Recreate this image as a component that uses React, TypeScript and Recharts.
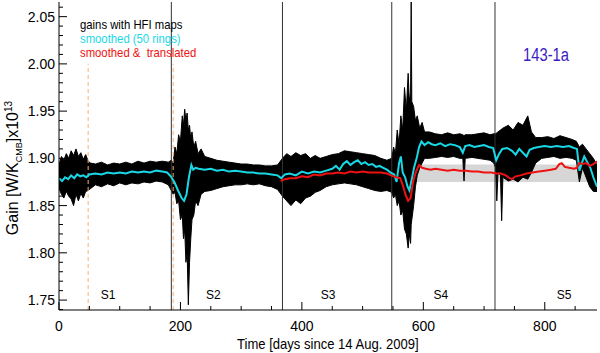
import React from "react";
import {
  ComposedChart,
  Area,
  Line,
  XAxis,
  YAxis,
  ReferenceArea,
  ReferenceLine,
  ReferenceDot,
} from "recharts";

const FONT = "'Liberation Sans', Arial, sans-serif";

// raw gains: envelope of the noisy HFI-map gains (low / high per sample)
const gainDays = [
  0, 4, 8, 12, 16, 20, 24, 28, 32, 36, 40, 44, 48, 52,
  60, 70, 80, 90, 100, 110, 120, 130, 140, 150, 160, 170, 180,
  185, 188, 191, 194, 197, 200, 203, 205, 207, 209, 211, 213, 215, 217, 219, 222, 225, 229, 234, 240,
  250, 260, 270, 280, 290, 300, 310, 320, 330, 340, 350, 360,
  368, 375, 382, 390, 398, 406, 414, 422, 430, 440, 450, 460, 470, 480, 490, 500, 510, 520, 530, 540,
  548, 551, 554, 557, 560, 563, 566, 569, 572, 575, 577, 579, 580, 581, 584, 587, 590, 594, 598, 602,
  610, 620, 630, 640, 650, 660, 665, 667, 669, 680, 690, 700, 710, 716,
  719, 721, 723, 727, 729, 731, 740, 748, 756, 764, 772, 778,
  785, 795, 805, 815, 825, 835, 845, 852, 857, 862, 868, 874, 880, 886,
];
const gainHi = [
  1.893, 1.902, 1.898, 1.905, 1.9, 1.908, 1.903, 1.91, 1.902, 1.906, 1.899, 1.904, 1.897, 1.895,
  1.894, 1.896, 1.893, 1.895, 1.894, 1.896, 1.894, 1.897, 1.895, 1.897, 1.896, 1.897, 1.896,
  1.898, 1.895, 1.912, 1.905, 1.925, 1.918, 1.945, 1.935, 1.952, 1.94, 1.948, 1.93, 1.935, 1.92, 1.928, 1.912, 1.918, 1.905, 1.91, 1.902,
  1.9, 1.898, 1.897, 1.896, 1.895, 1.894, 1.894, 1.893, 1.893, 1.892, 1.892, 1.893,
  1.9, 1.905, 1.902, 1.906, 1.903, 1.905, 1.9, 1.903, 1.9, 1.902, 1.904, 1.905, 1.908, 1.907, 1.906, 1.905, 1.904, 1.903, 1.9, 1.898,
  1.9, 1.912, 1.905, 1.93, 1.915, 1.945, 1.93, 1.975, 1.95, 1.99, 1.96, 1.97, 2.066, 1.96, 1.955, 1.94, 1.945, 1.932, 1.938, 1.928,
  1.928, 1.926, 1.925, 1.927, 1.925, 1.926, 1.925, 1.924, 1.925, 1.925, 1.926, 1.927, 1.925, 1.926,
  1.926, 1.927, 1.928, 1.93, 1.931, 1.932, 1.935, 1.93, 1.938, 1.935, 1.945, 1.928,
  1.922, 1.922, 1.923, 1.921, 1.924, 1.922, 1.92, 1.918, 1.912, 1.915, 1.91, 1.905, 1.9, 1.893,
];
const gainLo = [
  1.868, 1.862, 1.858, 1.865, 1.86, 1.857, 1.85, 1.862, 1.855, 1.863, 1.858, 1.865, 1.866, 1.868,
  1.872, 1.87, 1.873, 1.871, 1.874, 1.872, 1.874, 1.873, 1.875, 1.874, 1.876, 1.875, 1.872,
  1.866, 1.862, 1.864, 1.852, 1.855, 1.835, 1.84, 1.815, 1.825, 1.79, 1.8, 1.745, 1.79, 1.815, 1.835, 1.84, 1.855, 1.85, 1.862, 1.865,
  1.866, 1.868, 1.87, 1.871, 1.872, 1.872, 1.873, 1.872, 1.873, 1.871, 1.87, 1.867,
  1.86, 1.855, 1.85, 1.856, 1.852, 1.858, 1.86, 1.864, 1.866, 1.87, 1.872, 1.873, 1.874, 1.873, 1.872, 1.87, 1.868, 1.866, 1.865, 1.866,
  1.864, 1.858, 1.862, 1.85, 1.855, 1.84, 1.845, 1.825, 1.82, 1.805, 1.82, 1.81, 1.83, 1.835, 1.85, 1.87, 1.882, 1.89, 1.895, 1.9,
  1.9, 1.901, 1.902, 1.901, 1.902, 1.9, 1.9, 1.876, 1.9, 1.901, 1.9, 1.899, 1.898, 1.895,
  1.89, 1.855, 1.885, 1.882, 1.834, 1.88, 1.876, 1.878, 1.875, 1.88, 1.878, 1.885,
  1.895, 1.9, 1.901, 1.902, 1.9, 1.901, 1.9, 1.898, 1.875, 1.89, 1.88, 1.87, 1.865, 1.865,
];

// smoothed (50 rings)
const smoothDays = [
  0, 5, 10, 15, 20, 25, 30, 35, 40, 45, 50,
  60, 70, 80, 90, 100, 110, 120, 130, 140, 150, 160, 170, 178,
  184, 190, 196, 202, 206, 210, 214, 218, 221, 225, 230,
  240, 250, 260, 270, 280, 290, 300, 310, 320, 330, 340, 350, 360,
  366, 372, 380, 390, 400, 410, 420, 430, 440, 450,
  456, 462, 468, 474, 480, 486, 492, 498, 504, 510, 516, 522, 528, 534, 540, 546,
  552, 556, 560, 563, 566, 570, 574, 577, 581, 585, 589, 593, 597,
  602, 608, 614, 620, 628, 636, 644, 652, 660, 665, 669, 676, 684, 692, 700, 708, 715,
  720, 725, 730, 738, 746, 752, 758, 764, 770, 775, 782,
  790, 800, 810, 820, 830, 840, 848, 853, 857, 861, 865, 870, 875, 880, 886,
];
const smoothGain = [
  1.879, 1.876, 1.88, 1.878, 1.882, 1.879, 1.883, 1.881, 1.882, 1.88, 1.883,
  1.884, 1.883, 1.885, 1.884, 1.885, 1.884, 1.886, 1.885, 1.886, 1.885, 1.887, 1.886, 1.885,
  1.881, 1.875, 1.866, 1.858, 1.855, 1.862, 1.88, 1.893, 1.888, 1.89, 1.889,
  1.888, 1.889, 1.887, 1.888, 1.886, 1.887, 1.886, 1.885, 1.885, 1.884, 1.884, 1.883, 1.882,
  1.879, 1.883, 1.884, 1.882, 1.886, 1.884, 1.886, 1.885, 1.887, 1.889,
  1.892, 1.888, 1.894, 1.897, 1.893, 1.896, 1.898, 1.894, 1.896, 1.893, 1.894, 1.891, 1.892, 1.89, 1.888, 1.885,
  1.883, 1.875, 1.895, 1.902, 1.885, 1.88, 1.87, 1.866, 1.878, 1.891, 1.9, 1.912, 1.918,
  1.914, 1.917, 1.915, 1.914, 1.916, 1.913, 1.915, 1.914, 1.912, 1.906, 1.913, 1.914, 1.912, 1.913, 1.914, 1.912, 1.911,
  1.898, 1.905, 1.91, 1.911, 1.908, 1.904, 1.91, 1.906, 1.902, 1.909, 1.911,
  1.912, 1.913, 1.912, 1.913, 1.912, 1.913, 1.911, 1.91, 1.887, 1.895, 1.902, 1.896, 1.89, 1.88, 1.87,
];

// smoothed & translated
const shiftDays = [
  365, 372, 380, 390, 400, 410, 420, 430, 440, 450, 460, 470, 480, 490, 500, 510, 520, 530, 540, 547,
  555, 562, 567, 571, 575, 579, 583, 588, 593, 598,
  604, 612, 620, 630, 640, 650, 660, 670, 680, 690, 700, 712, 720, 728, 736, 742, 746, 752, 760, 770,
  780, 790, 800, 810, 818, 824, 828, 833, 840, 848, 853, 857, 862, 868, 874, 880, 886,
];
const shiftGain = [
  1.876, 1.878, 1.879, 1.879, 1.881, 1.88, 1.883, 1.882, 1.884, 1.884, 1.885, 1.884, 1.886, 1.885, 1.886, 1.885, 1.885, 1.885, 1.884, 1.882,
  1.88, 1.879, 1.87, 1.861, 1.855, 1.858, 1.875, 1.886, 1.893, 1.89,
  1.889, 1.888, 1.889, 1.888, 1.887, 1.888, 1.887, 1.887, 1.886, 1.886, 1.885, 1.885, 1.884, 1.884, 1.882, 1.879, 1.878, 1.881, 1.882, 1.884,
  1.885, 1.886, 1.887, 1.888, 1.889, 1.894, 1.895, 1.891, 1.89, 1.889, 1.89, 1.895, 1.894, 1.895, 1.892, 1.894, 1.897,
];

const surveyEdges = [185, 368, 548, 718];
const dashedDays = [48, 188];
const surveyNames = ["S1", "S2", "S3", "S4", "S5"];
const surveyMid = [81, 254, 443, 629, 832];

const xTicks = Array.from({ length: 18 }, (_, i) => i * 50);
const yTicks = Array.from({ length: 33 }, (_, i) => +(1.74 + i * 0.01).toFixed(2));

const rawData = gainDays.map((d, i) => ({ day: d, band: [gainLo[i], gainHi[i]] }));
const smoothData = smoothDays.map((d, i) => ({ day: d, gain: smoothGain[i] }));
const shiftData = shiftDays.map((d, i) => ({ day: d, gain: shiftGain[i] }));

const isMajorX = (v: number) => v % 200 === 0;
const isMajorY = (v: number) => Math.round(v * 100) % 5 === 0;

const BottomTick = (props: any) => {
  const { x, y, payload } = props;
  const major = isMajorX(payload.value);
  return (
    <g>
      <line x1={x} x2={x} y1={y} y2={y - (major ? 8 : 4)} stroke="#000" />
      {major && (
        <text x={x} y={y + 21} textAnchor="middle" fontSize={14} fontFamily={FONT} fill="#000">
          {payload.value}
        </text>
      )}
    </g>
  );
};

const TopTick = (props: any) => {
  const { x, y, payload } = props;
  const major = isMajorX(payload.value);
  return <line x1={x} x2={x} y1={y} y2={y + (major ? 8 : 4)} stroke="#000" />;
};

const LeftTick = (props: any) => {
  const { x, y, payload } = props;
  const major = isMajorY(payload.value);
  return (
    <g>
      <line x1={x} x2={x + (major ? 8 : 4)} y1={y} y2={y} stroke="#000" />
      {major && (
        <text x={x - 4} y={y + 5} textAnchor="end" fontSize={14} fontFamily={FONT} fill="#000">
          {payload.value.toFixed(2)}
        </text>
      )}
    </g>
  );
};

const RightTick = (props: any) => {
  const { x, y, payload } = props;
  const major = isMajorY(payload.value);
  return <line x1={x} x2={x - (major ? 8 : 4)} y1={y} y2={y} stroke="#000" />;
};

const txt = (left: number, top: number, color: string, size: number, squeeze = 1): React.CSSProperties => ({
  position: "absolute",
  left,
  top,
  color,
  fontSize: size,
  fontFamily: FONT,
  whiteSpace: "nowrap",
  lineHeight: 1,
  transform: `scaleX(${squeeze})`,
  transformOrigin: "left center",
});

export default function App() {
  return (
    <div style={{ position: "absolute", left: 0, top: 0, width: 600, height: 353, background: "#fff" }}>
      <ComposedChart width={600} height={353} margin={{ top: 2, right: 3, bottom: 0, left: 0 }}>
        <XAxis
          xAxisId="b"
          dataKey="day"
          type="number"
          domain={[0, 886]}
          ticks={xTicks}
          interval={0}
          tickSize={0}
          tickMargin={0}
          tickLine={false}
          tick={<BottomTick />}
          height={43}
          axisLine={{ stroke: "#000" }}
          allowDataOverflow
        />
        <XAxis
          xAxisId="t"
          orientation="top"
          dataKey="day"
          type="number"
          domain={[0, 886]}
          ticks={xTicks}
          interval={0}
          tickSize={0}
          tickMargin={0}
          tickLine={false}
          tick={<TopTick />}
          height={0}
          axisLine={{ stroke: "#000" }}
          allowDataOverflow
        />
        <YAxis
          yAxisId="l"
          type="number"
          domain={[1.7395, 2.0655]}
          ticks={yTicks}
          interval={0}
          tickSize={0}
          tickMargin={0}
          tickLine={false}
          tick={<LeftTick />}
          width={59}
          axisLine={{ stroke: "#000" }}
          allowDataOverflow
        />
        <YAxis
          yAxisId="r"
          orientation="right"
          type="number"
          domain={[1.7395, 2.0655]}
          ticks={yTicks}
          interval={0}
          tickSize={0}
          tickMargin={0}
          tickLine={false}
          tick={<RightTick />}
          width={0}
          axisLine={{ stroke: "#000" }}
          allowDataOverflow
        />

        <ReferenceArea xAxisId="b" yAxisId="l" x1={0} x2={886} y1={1.875} y2={1.8935} fill="#d6d6d6" fillOpacity={1} stroke="none" />

        {surveyEdges.map((d) => (
          <ReferenceLine key={d} xAxisId="b" yAxisId="l" x={d} stroke="#333" strokeWidth={1}
            segment={d === 185 ? [{ x: d, y: 1.7395 }, { x: d, y: 2.0 }] : undefined} />
        ))}
        {dashedDays.map((d) => (
          <ReferenceLine key={d} xAxisId="b" yAxisId="l" stroke="#f5b27a" strokeDasharray="4 3"
            segment={[{ x: d, y: 1.7395 }, { x: d, y: 2.0 }]} />
        ))}

        <Area
          xAxisId="b"
          yAxisId="l"
          data={rawData}
          dataKey="band"
          type="linear"
          stroke="#000"
          strokeWidth={1}
          fill="#000"
          fillOpacity={1}
          isAnimationActive={false}
        />
        <Line
          xAxisId="b"
          yAxisId="l"
          data={smoothData}
          dataKey="gain"
          type="linear"
          stroke="#19d8e6"
          strokeWidth={2}
          dot={false}
          isAnimationActive={false}
        />
        <Line
          xAxisId="b"
          yAxisId="l"
          data={shiftData}
          dataKey="gain"
          type="linear"
          stroke="#ee1111"
          strokeWidth={2}
          dot={false}
          isAnimationActive={false}
        />

        {surveyNames.map((s, i) => (
          <ReferenceDot key={s} xAxisId="b" yAxisId="l" x={surveyMid[i]} y={1.7553} r={0} stroke="none"
            label={{ value: s, position: "center", fontSize: 12, fontFamily: FONT, fill: "#000" }} />
        ))}
      </ComposedChart>

      <div style={txt(80, 18, "#000", 13, 0.87)}>gains with HFI maps</div>
      <div style={txt(80, 32, "#19d8e6", 13, 0.87)}>smoothed (50 rings)</div>
      <div style={txt(80, 46, "#ee1111", 13, 0.87)}>smoothed &amp;&nbsp; translated</div>
      <div style={txt(523, 46, "#3a1cc4", 18, 0.82)}>143-1a</div>
      <div style={txt(237, 336, "#000", 15, 0.87)}>Time [days since 14 Aug. 2009]</div>
      <div
        style={{
          ...txt(14, 168, "#000", 16),
          transform: "translate(-50%, -50%) rotate(-90deg)",
          transformOrigin: "center",
        }}
      >
        Gain [W/K<sub style={{ fontSize: 9 }}>CMB</sub>]x10<sup style={{ fontSize: 10 }}>13</sup>
      </div>
    </div>
  );
}
